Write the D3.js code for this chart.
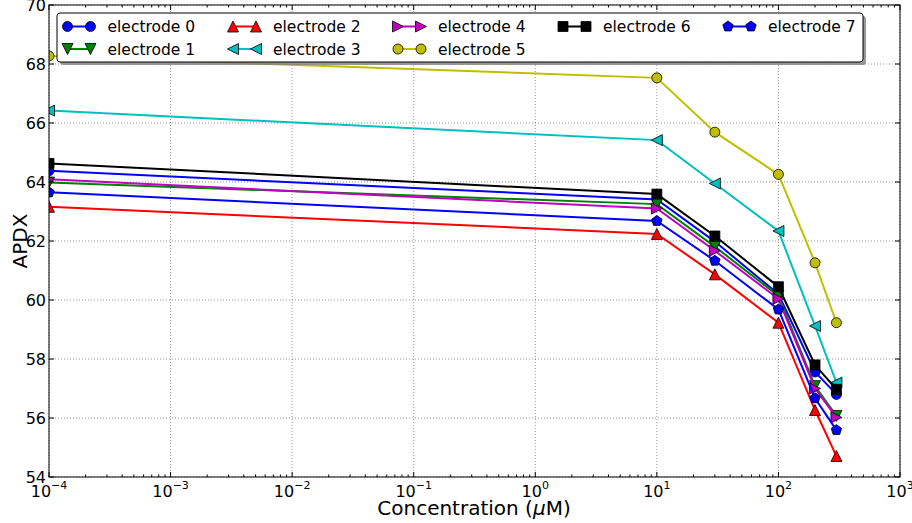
<!DOCTYPE html>
<html><head><meta charset="utf-8">
<script src="https://cdn.jsdelivr.net/npm/d3@7"></script>
<style>body{margin:0;background:#fff}svg{display:block}text{font-family:"DejaVu Sans",sans-serif}</style>
</head><body><svg id="c" width="912" height="523"></svg>
<script>
const concentrations = [1e-4, 10, 30, 100, 200, 300];
const electrode0 = [64.38, 63.41, 61.98, 60.20, 57.56, 56.80];
const electrode1 = [63.98, 63.25, 61.81, 60.14, 57.08, 56.07];
const electrode2 = [63.16, 62.24, 60.87, 59.23, 56.27, 54.71];
const electrode3 = [66.42, 65.42, 63.95, 62.34, 59.12, 57.20];
const electrode4 = [64.09, 63.10, 61.67, 60.04, 57.00, 56.02];
const electrode5 = [68.27, 67.53, 65.69, 64.26, 61.26, 59.23];
const electrode6 = [64.63, 63.59, 62.17, 60.45, 57.80, 56.97];
const electrode7 = [63.65, 62.68, 61.33, 59.68, 56.67, 55.59];
const seriesNames = ["electrode 0","electrode 1","electrode 2","electrode 3","electrode 4","electrode 5","electrode 6","electrode 7"];
const seriesColors = ["#0000ff","#008000","#ff0000","#00bfbf","#bf00bf","#bfbf00","#000000","#0000ff"];
const seriesMarkers = ["circle","tridown","triup","trileft","triright","circle","square","pentagon"];
const seriesValues = [electrode0,electrode1,electrode2,electrode3,electrode4,electrode5,electrode6,electrode7];
const yTicks = [54,56,58,60,62,64,66,68,70];
const xTickExps = [-4,-3,-2,-1,0,1,2,3];
// legend cell (column,row) for each series: matplotlib ncol=5 column-major fill
const legendCol = [0,0,1,1,2,2,3,4];
const legendRow = [0,1,0,1,0,1,0,0];

const svg = d3.select("#c");
const L=49, R=900, T=5, B=477;
const x = d3.scaleLog().domain([1e-4,1e3]).range([L,R]);
const y = d3.scaleLinear().domain([54,70]).range([B,T]);

function markerPath(type, s){
  const h=s/2;
  switch(type){
    case "circle": return `M${h},0A${h},${h} 0 1,1 ${-h},0A${h},${h} 0 1,1 ${h},0Z`;
    case "square": return `M${-h},${-h}H${h}V${h}H${-h}Z`;
    case "triup": return `M0,${-h}L${h},${h}L${-h},${h}Z`;
    case "tridown": return `M0,${h}L${h},${-h}L${-h},${-h}Z`;
    case "trileft": return `M${-h},0L${h},${-h}L${h},${h}Z`;
    case "triright": return `M${h},0L${-h},${-h}L${-h},${h}Z`;
    case "pentagon": {
      const p=[]; for(let i=0;i<5;i++){const a=-Math.PI/2+i*2*Math.PI/5; p.push([h*Math.cos(a),h*Math.sin(a)]);}
      return "M"+p.map(d=>d[0].toFixed(2)+","+d[1].toFixed(2)).join("L")+"Z";
    }
  }
}
const msize = {circle:10, square:10, triup:11, tridown:11, trileft:11, triright:11, pentagon:11};

svg.append("defs").append("clipPath").attr("id","clip").append("rect").attr("x",L).attr("y",T).attr("width",R-L).attr("height",B-T);

// grid
const grid = svg.append("g");
xTickExps.forEach(e=>{ grid.append("line").attr("x1",x(Math.pow(10,e))).attr("x2",x(Math.pow(10,e))).attr("y1",T).attr("y2",B).attr("stroke","#000").attr("stroke-opacity",0.6).attr("stroke-width",0.7).attr("stroke-dasharray","1,2"); });
yTicks.forEach(v=>{ grid.append("line").attr("x1",L).attr("x2",R).attr("y1",y(v)).attr("y2",y(v)).attr("stroke","#000").attr("stroke-opacity",0.6).attr("stroke-width",0.7).attr("stroke-dasharray","1,2"); });

// series
const plot = svg.append("g").attr("clip-path","url(#clip)");
const line = d3.line().x((d,i)=>x(concentrations[i])).y(d=>y(d));
seriesValues.forEach((vals,k)=>{
  const g = plot.append("g");
  g.append("path").attr("d",line(vals)).attr("fill","none").attr("stroke",seriesColors[k]).attr("stroke-width",2);
  g.selectAll("path.m").data(vals).enter().append("path").attr("class","m")
    .attr("transform",(d,i)=>`translate(${x(concentrations[i])},${y(d)})`)
    .attr("d",markerPath(seriesMarkers[k],msize[seriesMarkers[k]]))
    .attr("fill",seriesColors[k]).attr("stroke","#000").attr("stroke-width",0.8);
});

// frame
svg.append("rect").attr("x",L).attr("y",T).attr("width",R-L).attr("height",B-T).attr("fill","none").attr("stroke","#000").attr("stroke-width",1);

// ticks
const tk = svg.append("g").attr("stroke","#000").attr("stroke-width",1);
yTicks.forEach(v=>{
  tk.append("line").attr("x1",L).attr("x2",L+5).attr("y1",y(v)).attr("y2",y(v));
  tk.append("line").attr("x1",R).attr("x2",R-5).attr("y1",y(v)).attr("y2",y(v));
});
xTickExps.forEach(e=>{
  const p=x(Math.pow(10,e));
  tk.append("line").attr("x1",p).attr("x2",p).attr("y1",B).attr("y2",B-5);
  tk.append("line").attr("x1",p).attr("x2",p).attr("y1",T).attr("y2",T+5);
  if(e<3){ for(let m=2;m<=9;m++){ const q=x(m*Math.pow(10,e));
    tk.append("line").attr("x1",q).attr("x2",q).attr("y1",B).attr("y2",B-2.5);
    tk.append("line").attr("x1",q).attr("x2",q).attr("y1",T).attr("y2",T+2.5);
  }}
});

// tick labels
yTicks.forEach(v=>{
  svg.append("text").attr("x",L-3).attr("y",y(v)+6).attr("text-anchor","end").attr("font-size",16).text(v);
});
xTickExps.forEach(e=>{
  const t = svg.append("text").attr("x",x(Math.pow(10,e))).attr("y",497).attr("text-anchor","middle").attr("font-size",16);
  t.append("tspan").text("10");
  t.append("tspan").attr("dy",-8).attr("font-size",11).text(e<0?"\u2212"+(-e):String(e));
});

// axis labels
const xl = svg.append("text").attr("x",474).attr("y",515).attr("text-anchor","middle").attr("font-size",20);
xl.append("tspan").text("Concentration (");
xl.append("tspan").attr("font-style","italic").text("\u03bc");
xl.append("tspan").text("M)");
svg.append("text").attr("transform","translate(27,241) rotate(-90)").attr("text-anchor","middle").attr("font-size",20).text("APDX");

// legend
const lg = svg.append("g");
const LX=57, LY=13, LW=806, LH=49;
lg.append("rect").attr("x",LX+3).attr("y",LY+3).attr("width",LW).attr("height",LH).attr("rx",3).attr("fill","#808080").attr("fill-opacity",0.8);
lg.append("rect").attr("x",LX).attr("y",LY).attr("width",LW).attr("height",LH).attr("rx",3).attr("fill","#fff").attr("stroke","#000").attr("stroke-width",1);
const colX=[67.5,233,398,563,728], rowY=[26.5,49];
seriesNames.forEach((name,k)=>{
  const cx = colX[legendCol[k]], cy=rowY[legendRow[k]];
  const g = lg.append("g");
  g.append("line").attr("x1",cx).attr("x2",cx+23).attr("y1",cy).attr("y2",cy).attr("stroke",seriesColors[k]).attr("stroke-width",2);
  [cx,cx+23].forEach(px=>g.append("path").attr("transform",`translate(${px},${cy})`).attr("d",markerPath(seriesMarkers[k],msize[seriesMarkers[k]])).attr("fill",seriesColors[k]).attr("stroke","#000").attr("stroke-width",0.8));
  g.append("text").attr("x",cx+40).attr("y",cy+5.5).attr("font-size",15.5).text(name);
});
</script></body></html>
